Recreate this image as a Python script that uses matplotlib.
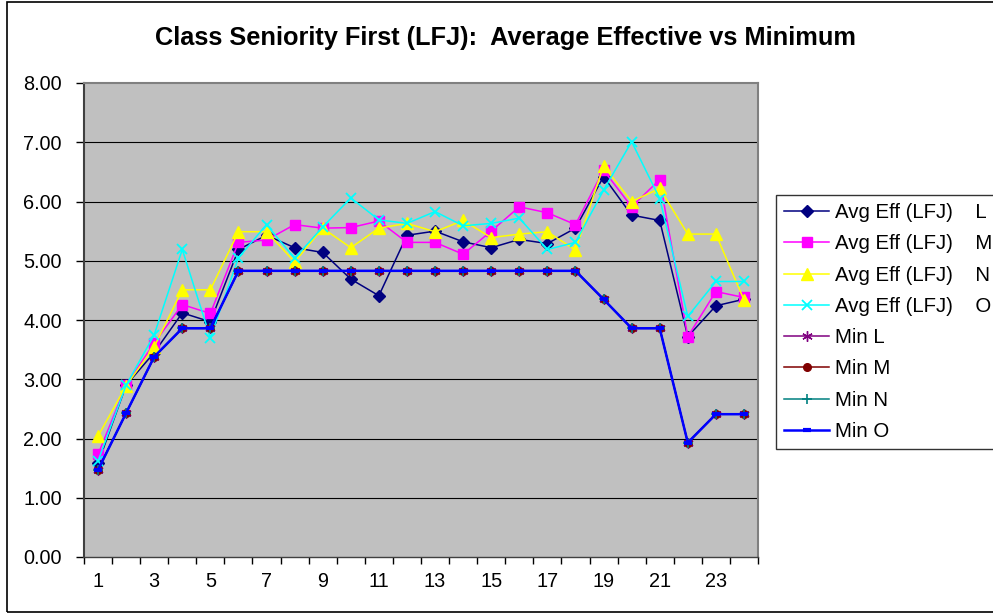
import numpy as np
import matplotlib.pyplot as plt
from matplotlib.patches import Rectangle

plt.rcParams['font.family'] = ['Liberation Sans', 'DejaVu Sans']

# ---------------- DATA ---------------- #

periods = list(range(1, 25))
tick_labels = [str(p) for p in range(1, 25, 2)]

avg_l = [1.58, 2.90, 3.45, 4.12, 3.97, 5.19, 5.43, 5.22, 5.14, 4.69, 4.41, 5.43,
         5.50, 5.32, 5.22, 5.36, 5.29, 5.55, 6.42, 5.77, 5.68, 3.72, 4.24, 4.35]
avg_m = [1.73, 2.90, 3.61, 4.26, 4.11, 5.31, 5.35, 5.61, 5.55, 5.56, 5.67, 5.31,
         5.31, 5.11, 5.50, 5.91, 5.81, 5.61, 6.53, 5.91, 6.37, 3.72, 4.48, 4.38]
avg_n = [2.04, 2.89, 3.55, 4.51, 4.51, 5.49, 5.49, 4.98, 5.55, 5.22, 5.55, 5.63,
         5.49, 5.68, 5.39, 5.45, 5.49, 5.18, 6.60, 6.00, 6.22, 5.45, 5.45, 4.34]
avg_o = [1.62, 2.90, 3.75, 5.19, 3.70, 5.05, 5.61, 5.04, 5.57, 6.06, 5.69, 5.63,
         5.83, 5.59, 5.63, 5.72, 5.19, 5.31, 6.19, 7.01, 6.05, 4.06, 4.65, 4.65]
min_all = [1.47, 2.43, 3.38, 3.86, 3.86, 4.83, 4.83, 4.83, 4.83, 4.83, 4.83, 4.83,
           4.83, 4.83, 4.83, 4.83, 4.83, 4.83, 4.35, 3.86, 3.86, 1.93, 2.41, 2.41]
min_l = min_all
min_m = min_all
min_n = min_all
min_o = min_all

# ---------------- PLOT ---------------- #

fig = plt.figure(figsize=(9.93, 6.13), dpi=100)
ax = fig.add_axes([84 / 993, 56 / 613, 674 / 993, 474 / 613])
ax.set_facecolor('#C0C0C0')

# horizontal gridlines
for yv in range(1, 8):
    ax.axhline(yv, color='black', lw=0.8, zorder=1)

series = [
    (avg_l, 'Avg Eff (LFJ)    L', '#000080', dict(marker='D', ms=6), 1.1),
    (avg_m, 'Avg Eff (LFJ)    M', '#FF00FF', dict(marker='s', ms=6.5), 1.1),
    (avg_n, 'Avg Eff (LFJ)    N', '#FFFF00', dict(marker='^', ms=8), 1.1),
    (avg_o, 'Avg Eff (LFJ)    O', '#00FFFF', dict(marker='x', ms=7, mew=1.3), 1.1),
    (min_l, 'Min L', '#800080', dict(marker=(6, 2, 0), ms=7.5, mew=1.0), 1.1),
    (min_m, 'Min M', '#800000', dict(marker='o', ms=5.5), 1.1),
    (min_n, 'Min N', '#008080', dict(marker='+', ms=7, mew=1.2), 1.1),
    (min_o, 'Min O', '#0000FF', dict(marker='_', ms=6, mew=3), 1.8),
]

for vals, label, color, mk, lw in series:
    ax.plot(periods, vals, color=color, lw=lw, label=label,
            mfc=color, mec=color, zorder=3, **mk)

ax.set_xlim(0.5, 24.5)
ax.set_ylim(0, 8)
ax.set_yticks(np.arange(0, 9, 1))
ax.set_yticklabels([f'{v:.2f}' for v in range(0, 9)])
ax.set_xticks(range(1, 25, 2))
ax.set_xticklabels(tick_labels)
ax.set_xticks(np.arange(0.5, 25, 1), minor=True)
ax.tick_params(axis='x', which='major', length=0, pad=11, labelsize=14.3)
ax.tick_params(axis='x', which='minor', length=5, width=1, color='black')
ax.tick_params(axis='y', length=6, width=1, pad=10, labelsize=14.3)

for side in ['top', 'right']:
    ax.spines[side].set_color('#808080')
    ax.spines[side].set_linewidth(1.5)
ax.spines['left'].set_color('#404040')
ax.spines['left'].set_linewidth(1.5)
ax.spines['bottom'].set_color('#404040')
ax.spines['bottom'].set_linewidth(1.0)

fig.text(0.509, 0.938, 'Class Seniority First (LFJ):  Average Effective vs Minimum',
         ha='center', va='center', fontsize=18.3, fontweight='bold')

leg = fig.legend(loc='upper left', bbox_to_anchor=(776 / 993, 1 - 195 / 613),
                 fontsize=14.7, frameon=True, fancybox=False, edgecolor='black',
                 handlelength=2.2, handletextpad=0.3, labelspacing=0.6,
                 borderpad=0.4, borderaxespad=0)
leg.get_frame().set_linewidth(1.0)

# outer chart border (runs past the right edge like the original)
fig.patches.append(Rectangle((7 / 993, 1.5 / 613), 1.2, 1 - 3 / 613,
                             transform=fig.transFigure, fill=False,
                             edgecolor='black', lw=1.2))

fig.savefig('out.png', dpi=100)
